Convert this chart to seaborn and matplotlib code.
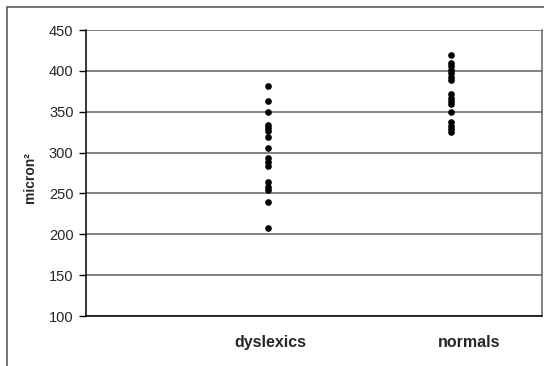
import matplotlib
matplotlib.use("Agg")
import matplotlib.pyplot as plt
import seaborn as sns
import pandas as pd
from matplotlib.patches import Rectangle

categories = ["dyslexics", "normals"]
dyslexics = [381, 363, 350, 334, 330, 326, 319, 305, 293, 289, 284, 264, 258, 254, 239, 208]
normals = [419, 410, 406, 401, 397, 393, 389, 372, 367, 363, 359, 350, 337, 333, 329, 325]
y_ticks = [100, 150, 200, 250, 300, 350, 400, 450]

df = pd.DataFrame({
    "group": [categories[0]] * len(dyslexics) + [categories[1]] * len(normals),
    "value": dyslexics + normals,
})

sns.set_style("white")
plt.rcParams["font.family"] = ["Liberation Sans", "DejaVu Sans"]

fig = plt.figure(figsize=(5.44, 3.66), dpi=100)
ax = fig.add_axes([86 / 544, 1 - 316 / 366, (542 - 86) / 544, (316 - 30) / 366])

sns.stripplot(data=df, x="group", y="value", order=categories, jitter=False,
              color="black", size=4.8, linewidth=0, ax=ax, zorder=3)

ax.set_xlim(-1, 1.5)
ax.set_ylim(100, 450)
ax.set_yticks(y_ticks)
ax.set_yticklabels([str(t) for t in y_ticks], fontsize=10.5)
for t in y_ticks:
    ax.axhline(t, color="#606060", lw=1.1, zorder=1)

# category labels (the second one sits a little right of its column, as in the reference)
ax.set_xticks([0.01, 1.1])
ax.set_xticklabels(categories, fontsize=11.5, fontweight="bold")
ax.tick_params(axis="x", length=0, pad=14)
ax.tick_params(axis="y", length=5, width=1, color="black", direction="out", left=True, pad=4)
ax.set_xlabel("")
ax.set_ylabel("micron\u00b2", fontsize=10, fontweight="bold")
ax.yaxis.set_label_coords(-0.107, 0.485)

for side in ["left", "bottom"]:
    ax.spines[side].set_visible(True)
    ax.spines[side].set_color("black")
    ax.spines[side].set_linewidth(1.1)
ax.spines["right"].set_visible(True)
ax.spines["right"].set_color("#606060")
ax.spines["right"].set_linewidth(1.1)
ax.spines["top"].set_visible(False)

frame = Rectangle((7 / 544, -0.1), 1.2, 1 - 7 / 366 + 0.1, transform=fig.transFigure,
                  fill=False, edgecolor="#505050", lw=1.1)
fig.patches.append(frame)

fig.savefig("out.png", dpi=100)
